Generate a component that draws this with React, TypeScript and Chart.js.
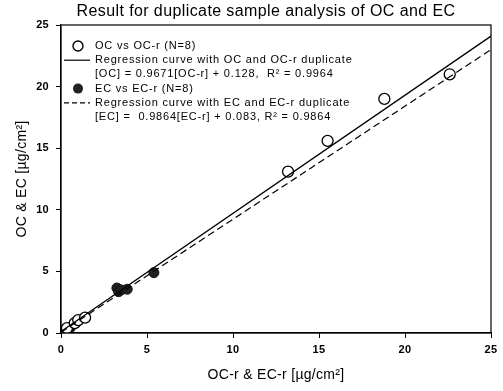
import React, { useEffect, useRef } from "react";
import { Chart, registerables } from "chart.js";

Chart.register(...registerables);

const titleText = "Result for duplicate sample analysis of OC and EC";
const xTitle = "OC-r & EC-r [µg/cm²]";
const yTitle = "OC & EC [µg/cm²]";
const tickValues = [0, 5, 10, 15, 20, 25];

const ocX = [0.35, 0.8, 1.0, 1.4, 13.2, 15.5, 18.8, 22.6];
const ocY = [0.4, 0.8, 1.05, 1.25, 13.1, 15.6, 19.0, 21.0];
const ecX = [0.2, 0.35, 0.55, 3.25, 3.35, 3.5, 3.85, 5.4];
const ecY = [0.2, 0.3, 0.45, 3.65, 3.35, 3.5, 3.55, 4.9];

const fitX = [0, 25];
const ocFitY = [0.128, 24.1];
const ecFitY = [0.06, 23.0];

const legendLines = [
  "OC vs OC-r (N=8)",
  "Regression curve with OC and OC-r duplicate",
  "[OC] = 0.9671[OC-r] + 0.128,  R² = 0.9964",
  "EC vs EC-r (N=8)",
  "Regression curve with EC and EC-r duplicate",
  "[EC] =  0.9864[EC-r] + 0.083, R² = 0.9864",
];

const FONT = "'Liberation Sans', Arial, sans-serif";

const toPts = (xs: number[], ys: number[]) => xs.map((x, i) => ({ x, y: ys[i] }));

const spacing = {
  id: "spacing",
  beforeDraw(chart: any) {
    (chart.ctx as any).letterSpacing = "0.3px";
  },
};

const decor = {
  id: "decor",
  afterDraw(chart: any) {
    const ctx = chart.ctx as any;
    const a = chart.chartArea;
    ctx.save();
    // frame
    ctx.strokeStyle = "#000";
    ctx.lineWidth = 1.2;
    ctx.strokeRect(a.left, a.top, a.right - a.left, a.bottom - a.top);
    // title
    ctx.fillStyle = "#000";
    ctx.letterSpacing = "0.4px";
    ctx.font = `16px ${FONT}`;
    ctx.textAlign = "center";
    ctx.textBaseline = "middle";
    ctx.fillText(titleText, 266, 12);
    // legend
    ctx.letterSpacing = "0.8px";
    ctx.font = `11px ${FONT}`;
    ctx.textAlign = "left";
    const tx = 95;
    legendLines.forEach((t, i) => {
      const y = 46 + i * 14.2;
      ctx.fillStyle = "#000";
      ctx.fillText(t, tx, y);
      if (i === 0) {
        ctx.beginPath();
        ctx.arc(78, y, 5, 0, Math.PI * 2);
        ctx.fillStyle = "#fff";
        ctx.fill();
        ctx.lineWidth = 1.4;
        ctx.strokeStyle = "#000";
        ctx.stroke();
      } else if (i === 3) {
        ctx.beginPath();
        ctx.arc(78, y, 5, 0, Math.PI * 2);
        ctx.fillStyle = "#222";
        ctx.fill();
      } else if (i === 1 || i === 4) {
        ctx.beginPath();
        ctx.setLineDash(i === 4 ? [5, 3] : []);
        ctx.lineWidth = 1.2;
        ctx.strokeStyle = "#000";
        ctx.moveTo(a.left + 3, y);
        ctx.lineTo(90, y);
        ctx.stroke();
        ctx.setLineDash([]);
      }
    });
    ctx.restore();
  },
};

export default function App() {
  const ref = useRef<HTMLCanvasElement>(null);
  useEffect(() => {
    const chart = new Chart(ref.current!, {
      type: "scatter",
      data: {
        datasets: [
          {
            type: "line",
            label: "OC fit",
            data: toPts(fitX, ocFitY),
            borderColor: "#000",
            borderWidth: 1.3,
            pointRadius: 0,
            fill: false,
          } as any,
          {
            type: "line",
            label: "EC fit",
            data: toPts(fitX, ecFitY),
            borderColor: "#000",
            borderWidth: 1.2,
            borderDash: [7, 4],
            pointRadius: 0,
            fill: false,
          } as any,
          {
            label: "OC vs OC-r",
            data: toPts(ocX, ocY),
            backgroundColor: "#fff",
            borderColor: "#000",
            borderWidth: 1.3,
            pointRadius: 5.5,
          },
          {
            label: "EC vs EC-r",
            data: toPts(ecX, ecY),
            backgroundColor: "#222",
            borderColor: "#111",
            borderWidth: 1,
            pointRadius: 5,
          },
        ],
      },
      options: {
        animation: false,
        responsive: false,
        layout: { padding: { left: 0, right: 12, top: 25, bottom: 5 } },
        plugins: {
          legend: { display: false },
          title: { display: false },
          tooltip: { enabled: false },
        },
        scales: {
          x: {
            type: "linear",
            min: 0,
            max: 25,
            afterBuildTicks: (s: any) => {
              s.ticks = tickValues.map((v) => ({ value: v }));
            },
            afterFit: (s: any) => {
              s.height = 53;
            },
            grid: { drawOnChartArea: false, tickLength: 5, color: "#000", lineWidth: 1 },
            border: { display: true, color: "#000", width: 1.2 },
            ticks: {
              color: "#000",
              font: { family: FONT, size: 11, weight: "bold" },
              padding: 5,
              maxRotation: 0,
            },
            title: {
              display: true,
              text: xTitle,
              color: "#000",
              font: { family: FONT, size: 14 },
              padding: { top: 4, bottom: 2 },
            },
          },
          y: {
            type: "linear",
            min: 0,
            max: 25,
            afterBuildTicks: (s: any) => {
              s.ticks = tickValues.map((v) => ({ value: v }));
            },
            afterFit: (s: any) => {
              s.width = 61;
            },
            grid: { drawOnChartArea: false, tickLength: 5, color: "#000", lineWidth: 1 },
            border: { display: true, color: "#000", width: 1.2 },
            ticks: {
              color: "#000",
              font: { family: FONT, size: 11, weight: "bold" },
              padding: 7,
            },
            title: {
              display: true,
              text: yTitle,
              color: "#000",
              font: { family: FONT, size: 14 },
              padding: { top: 14, bottom: 0 },
            },
          },
        },
      },
      plugins: [spacing, decor],
    } as any);
    return () => chart.destroy();
  }, []);
  return (
    <div style={{ position: "fixed", left: 0, top: 0, width: 503, height: 391, background: "#fff" }}>
      <canvas ref={ref} width={503} height={391} style={{ width: 503, height: 391 }} />
    </div>
  );
}
